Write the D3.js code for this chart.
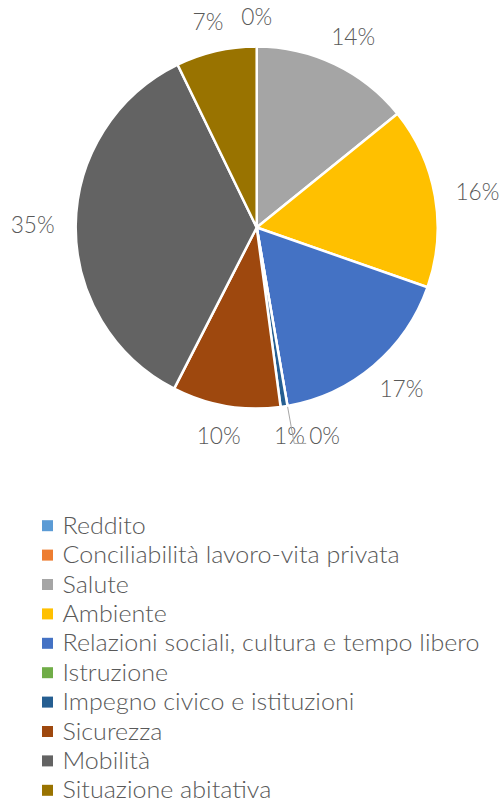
<!DOCTYPE html>
<html>
<head>
<meta charset="utf-8">
<script src="https://cdn.jsdelivr.net/npm/d3@7"></script>
<style>
  html, body { margin: 0; padding: 0; background: #ffffff; }
  svg { display: block; }
  text { font-family: Lato, "Open Sans", sans-serif; font-weight: 300; fill: #595959; }
</style>
</head>
<body>
<svg id="chart" width="501" height="803"></svg>
<script>
// ---- data ----
const categories = [
  "Reddito",
  "Conciliabilità lavoro-vita privata",
  "Salute",
  "Ambiente",
  "Relazioni sociali, cultura e tempo libero",
  "Istruzione",
  "Impegno civico e istituzioni",
  "Sicurezza",
  "Mobilità",
  "Situazione abitativa"
];
const values = [0, 0, 14.17, 16.17, 16.92, 0, 0.61, 9.64, 35.25, 7.19];
const colors = ["#5B9BD5", "#ED7D31", "#A5A5A5", "#FFC000", "#4472C4",
                "#70AD47", "#255E91", "#9E480E", "#636363", "#997300"];

// ---- layout ----
const svg = d3.select("#chart");
const W = 501, H = 803;
svg.append("rect").attr("width", W).attr("height", H).attr("fill", "#fff");

const cx = 256.7, cy = 227.5, R = 181;
const labelR = 202;

const total = d3.sum(values);
const pie = d3.pie().sort(null).value(d => d)(values);
const arc = d3.arc().innerRadius(0).outerRadius(R);

const g = svg.append("g").attr("transform", `translate(${cx},${cy})`);
g.selectAll("path.slice")
  .data(pie)
  .join("path")
  .attr("class", "slice")
  .attr("d", arc)
  .attr("fill", (d, i) => colors[i])
  .attr("stroke", "#ffffff")
  .attr("stroke-width", 2.5)
  .attr("stroke-linejoin", "round");

// ---- font helpers ----
const capRatio = 0.72;
function textW(str, size) {
  const t = svg.append("text").attr("font-size", size).text(str);
  const w = t.node().getComputedTextLength();
  t.remove();
  return w;
}
const labelSize = 16.5 / capRatio;
const labelK = 44 / textW("35%", labelSize);
const legendSize = 16.3 / capRatio;
const legendK = 417 / textW(categories[4], legendSize);

// ---- data labels ----
const labelH = 18;
const fmt = v => Math.round(v / total * 100) + "%";
const placed = [];
const order = d3.range(values.length).sort((a, b) => values[b] - values[a]);
const labelsG = svg.append("g");
const leaderG = svg.append("g");

order.forEach(i => {
  const d = pie[i];
  const a = (d.startAngle + d.endAngle) / 2;
  const s = Math.sin(a), c = -Math.cos(a);
  const txt = fmt(values[i]);
  const w = textW(txt, labelSize) * labelK;
  let x = cx + s * (labelR + w / 2);
  let y = cy + c * (labelR + labelH / 2);
  const natX = x;
  // duplicate (same angle, same text): drawn exactly on top, so show once
  const dup = placed.find(p => Math.abs(p.a - a) < 1e-6 && p.txt === txt);
  if (dup) return;
  const pad = 4;
  const overlaps = () => placed.some(p =>
    Math.abs(p.x - x) < (p.w + w) / 2 + pad && Math.abs(p.y - y) < labelH);
  const dir = s >= -1e-6 ? 1 : -1;
  while (overlaps()) x += dir;
  labelsG.append("text")
    .attr("font-size", labelSize)
    .attr("x", x - w / 2)
    .attr("y", y + labelSize * capRatio / 2)
    .attr("textLength", w)
    .attr("lengthAdjust", "spacingAndGlyphs")
    .text(txt);
  placed.push({x, y, w, a, txt});
  if (Math.abs(x - natX) > 0.5) {
    const sx = cx + Math.sin(a) * (R + 1), sy = cy - Math.cos(a) * (R + 1);
    const left = x - w / 2;
    leaderG.append("polyline")
      .attr("points", [[sx, sy], [left - 15, y + 8], [left - 3, y + 8]].map(p => p.join(",")).join(" "))
      .attr("fill", "none")
      .attr("stroke", "#A6A6A6")
      .attr("stroke-width", 1);
  }
});

// ---- legend ----
const legY0 = 525.7, legStep = 29.4;
const leg = svg.append("g");
categories.forEach((name, i) => {
  const y = legY0 + i * legStep;
  leg.append("rect")
    .attr("x", 42).attr("y", y - 5.5)
    .attr("width", 11).attr("height", 11)
    .attr("fill", colors[i]);
  leg.append("text")
    .attr("x", 62.5)
    .attr("y", y + legendSize * capRatio / 2)
    .attr("font-size", legendSize)
    .attr("textLength", textW(name, legendSize) * legendK)
    .attr("lengthAdjust", "spacingAndGlyphs")
    .text(name);
});
</script>
</body>
</html>
